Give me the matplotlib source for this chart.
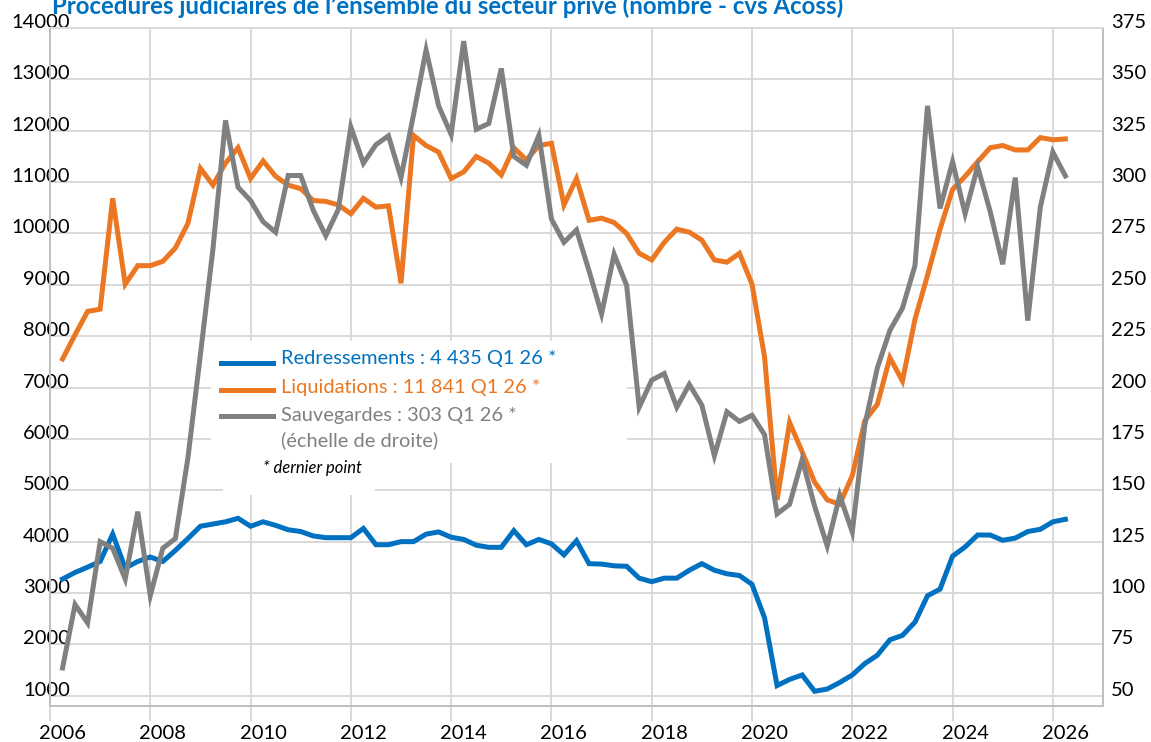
import numpy as np
import pandas as pd
import matplotlib
matplotlib.use("Agg")
import matplotlib.pyplot as plt
from matplotlib.lines import Line2D
from matplotlib.patches import Rectangle
from matplotlib.transforms import ScaledTranslation

plt.rcParams['font.family'] = ['Lato', 'DejaVu Sans']

#==================================
# Data (quarterly, 2006 Q1 -> 2026 Q1)

quarters = pd.period_range("2006Q1", "2026Q1", freq="Q")

redressements = [3272, 3400, 3503, 3614, 4146, 3486, 3614, 3700, 3614, 3829,
                 4060, 4300, 4343, 4386, 4454, 4300, 4386, 4317, 4231, 4197,
                 4111, 4077, 4077, 4077, 4257, 3940, 3940, 4000, 4000, 4146,
                 4189, 4086, 4043, 3931, 3889, 3889, 4214, 3940, 4043, 3957,
                 3743, 4017, 3571, 3563, 3529, 3520, 3289, 3220, 3289, 3289,
                 3443, 3571, 3443, 3374, 3340, 3169, 2517, 1198, 1318, 1404,
                 1087, 1130, 1258, 1404, 1626, 1789, 2089, 2175, 2432, 2946,
                 3075, 3717, 3897, 4129, 4129, 4026, 4069, 4197, 4240, 4386,
                 4435]

liquidations = [7556, 8027, 8482, 8525, 10684, 9013, 9373, 9373, 9458, 9716,
                10195, 11267, 10941, 11369, 11669, 11069, 11412, 11112, 10941, 10872,
                10641, 10624, 10555, 10384, 10684, 10512, 10538, 9030, 11909, 11712,
                11584, 11069, 11198, 11498, 11369, 11138, 11669, 11429, 11712, 11755,
                10555, 11069, 10255, 10298, 10212, 9998, 9613, 9484, 9827, 10084,
                10024, 9870, 9484, 9441, 9613, 9013, 7599, 4814, 6320, 5750,
                5157, 4814, 4728, 5285, 6356, 6673, 7582, 7128, 8327, 9184,
                10084, 10855, 11112, 11395, 11669, 11712, 11626, 11626, 11866, 11823,
                11841]

sauvegardes = [63.5, 94.4, 85.4, 125, 121.8, 106.8, 139.6, 98.7, 121.8, 126.5,
               165.7, 216.1, 267.5, 330, 297.5, 291, 280.7, 275.6, 303.2, 303.2,
               286.3, 273.9, 286.7, 326.8, 309.2, 318.2, 322.5, 302.2, 332.8, 364.3,
               337.1, 323.2, 368.6, 325.7, 328.5, 355.3, 312.5, 308.2, 322.7, 282,
               270.7, 276.7, 256.8, 235.8, 264.9, 249.7, 190.4, 203.6, 206.8, 190.4,
               201.5, 191.4, 166.8, 188.2, 183.5, 186.5, 177.1, 138.5, 143.2, 165,
               142.2, 122.9, 147.5, 129.7, 181.8, 209.6, 227.8, 238.6, 259.3, 337.1,
               287.2, 309.9, 284.6, 307.5, 285.7, 260, 302.2, 232.6, 287.8, 314.6,
               303]

year_ticks = list(range(2006, 2027, 2))
left_ticks = list(range(1000, 14001, 1000))
right_ticks = list(range(50, 376, 25))

legend_labels = ["Redressements : 4 435 Q1 26 *",
                 "Liquidations : 11 841 Q1 26 *",
                 "Sauvegardes : 303 Q1 26 *"]

BLUE = '#0070C0'
ORANGE = '#EB7722'
GREY = '#808080'
GRID = '#D9D9D9'

# quarter position = end of the quarter
x = np.array([q.year + q.quarter / 4 for q in quarters])

#==================================
# Figure

W, H = 1151, 742
fig = plt.figure(figsize=(W / 100, H / 100), dpi=100)

def fx(px):
	return px / W

def fy(py):
	return 1 - py / H

ax = fig.add_axes([fx(50), fy(706), fx(1103) - fx(50), fy(28) - fy(706)])
ax2 = ax.twinx()

ax.plot(x, redressements, color=BLUE, lw=3.6, zorder=3, solid_joinstyle='miter')
ax.plot(x, liquidations, color=ORANGE, lw=3.6, zorder=3, solid_joinstyle='miter')
ax2.plot(x, sauvegardes, color=GREY, lw=3.6, solid_joinstyle='miter')

ax.set_xlim(2006, 2027)
ax.set_ylim(800, 14000)
ax2.set_ylim(45, 375)

ax.set_xticks(year_ticks)
ax.set_yticks(left_ticks)
ax2.set_yticks(right_ticks)

ax.grid(True, color=GRID, lw=1.4)
for a in (ax, ax2):
	for s in a.spines.values():
		s.set_color('#BFBFBF')
		s.set_linewidth(1.4)
	a.spines['top'].set_color(GRID)

ax.tick_params(axis='x', length=11, width=1.4, color=GRID, pad=3, labelsize=14.5)
ax.tick_params(axis='y', length=0, pad=-14.4, labelsize=14.5)
ax2.tick_params(axis='y', length=0, pad=5.5, labelsize=14.5)

# Excel-like label offsets
dx = ScaledTranslation(12.5 / 100, 0, fig.dpi_scale_trans)
for lab in ax.get_xticklabels():
	lab.set_transform(lab.get_transform() + dx)
dy = ScaledTranslation(0, 7 / 100, fig.dpi_scale_trans)
for lab in ax.get_yticklabels() + ax2.get_yticklabels():
	lab.set_transform(lab.get_transform() + dy)

# white boxes behind the legend texts
ax.add_patch(Rectangle((211, H - 463), 627 - 211, 463 - 341, transform=None,
                       facecolor='white', edgecolor='none', zorder=2))
ax.add_patch(Rectangle((223, H - 495), 375 - 223, 495 - 463, transform=None,
                       facecolor='white', edgecolor='none', zorder=2))

# legend
rows = [(363, 358, BLUE), (390, 388, ORANGE), (416, 415, GREY)]
for (ly, ty, c), lab in zip(rows, legend_labels):
	fig.add_artist(Line2D([fx(221), fx(273)], [fy(ly), fy(ly)], color=c, lw=3.6))
	fig.text(fx(281), fy(ty), lab, color=c, fontsize=14.4, va='center', ha='left')
fig.text(fx(281), fy(440), "(échelle de droite)", color=GREY, fontsize=14.4, va='center', ha='left')
fig.text(fx(263), fy(468), "* dernier point", color='black', fontsize=12, style='italic',
         va='center', ha='left')

fig.text(fx(52), fy(14), "Procédures judiciaires de l’ensemble du secteur privé (nombre - cvs Acoss)",
         color=BLUE, fontsize=17.3, fontweight='bold', va='baseline', ha='left')

fig.savefig("out.png", dpi=100)
